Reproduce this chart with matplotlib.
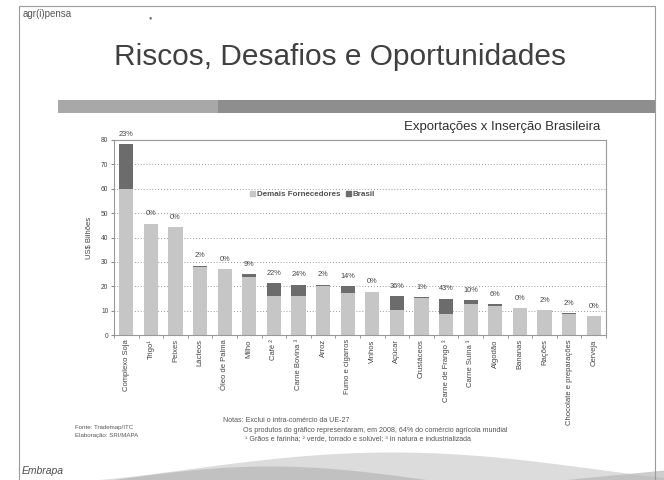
#!/usr/bin/env python3
"""Exportações x Inserção Brasileira - slide recreation."""

import numpy as np
import matplotlib.pyplot as plt
from matplotlib.patches import Rectangle

plt.rcParams['font.family'] = ['Liberation Sans', 'DejaVu Sans']

# --- data (US$ billions, 2008) ---
produtos = ['Complexo Soja', 'Trigo¹', 'Peixes', 'Lácteos', 'Óleo de Palma',
            'Milho', 'Café ²', 'Carne Bovina ³', 'Arroz', 'Fumo e cigarros',
            'Vinhos', 'Açúcar', 'Crustáceos', 'Carne de Frango ³', 'Carne Suína ³',
            'Algodão', 'Bananas', 'Rações', 'Chocolate e preparações', 'Cerveja']
demais = [60.0, 45.7, 44.2, 28.1, 27.0, 23.6, 16.0, 16.0, 20.3, 17.4,
          17.8, 10.3, 15.3, 8.6, 12.8, 12.0, 11.0, 10.1, 8.7, 7.9]
brasil = [18.2, 0.0, 0.0, 0.4, 0.0, 1.4, 5.3, 4.7, 0.4, 2.8,
          0.0, 5.5, 0.2, 6.3, 1.6, 0.6, 0.0, 0.2, 0.2, 0.0]
participacao = ['23%', '0%', '0%', '2%', '0%', '9%', '22%', '24%', '2%', '14%',
                '0%', '36%', '1%', '43%', '10%', '6%', '0%', '2%', '2%', '0%']
y_ticks = [0, 10, 20, 30, 40, 50, 60, 70, 80]

W, H = 664, 480
fig = plt.figure(figsize=(W / 100, H / 100), dpi=100)

# background layer in pixel coordinates
bg = fig.add_axes([0, 0, 1, 1], zorder=-1)
bg.set_xlim(0, W)
bg.set_ylim(H, 0)
bg.axis('off')

# bottom swoosh
xs = np.linspace(90, 664, 300)
t = (xs - 90) / 574
top = 480 - 28 * np.sin(np.clip(t, 0, 1) * np.pi * 0.95) ** 1.3
bg.fill_between(xs, top, 480, color='#dcdcdc', lw=0)
top2 = 480 - 14 * np.sin(np.clip((xs - 110) / 320, 0, 1) * np.pi)
bg.fill_between(xs, top2, 480, color='#b0b0b0', lw=0, alpha=0.6)
top3 = 480 - 10 * np.clip((xs - 560) / 104, 0, 1)
bg.fill_between(xs, top3, 480, color='#b8b8b8', lw=0, alpha=0.7)

# slide border
bg.add_patch(Rectangle((19, 6), 636, 480, fill=False, edgecolor='#9a9a9a', lw=0.8))
# gray band under title
bg.add_patch(Rectangle((58, 100), 597, 13, facecolor='#8e8e8e', edgecolor='none'))
bg.add_patch(Rectangle((58, 100), 160, 13, facecolor='#a8a8a8', edgecolor='none'))

# logos and titles
bg.text(23, 14, 'agr(i)pensa', fontsize=7, color='#555555', va='center')
bg.text(150, 18, '●', fontsize=4, color='#666666', ha='center', va='center')
bg.text(340, 57, 'Riscos, Desafios e Oportunidades', fontsize=21.5,
        color='#404040', ha='center', va='center')
bg.text(600, 127, 'Exportações x Inserção Brasileira', fontsize=9.5,
        color='#303030', ha='right', va='center')
bg.text(22, 471, 'Embrapa', fontsize=7.5, style='italic', color='#505050', va='center')

# notes
note_c = '#555555'
bg.text(75, 427, 'Fonte: Trademap/ITC', fontsize=4.4, color=note_c, va='center')
bg.text(75, 435, 'Elaboração: SRI/MAPA', fontsize=4.4, color=note_c, va='center')
bg.text(223, 421, 'Notas: Exclui o intra-comércio da UE-27', fontsize=5.1,
        color=note_c, va='center')
bg.text(243, 430, 'Os produtos do gráfico representaram, em 2008, 64% do comércio agrícola mundial',
        fontsize=5.1, color=note_c, va='center')
bg.text(245, 439, '¹ Grãos e farinha; ² verde, torrado e solúvel; ³ in natura e industrializada',
        fontsize=5.1, color=note_c, va='center')

# chart axes
ax = fig.add_axes([114 / W, 1 - 335 / H, 492 / W, 195 / H])
x = np.arange(len(produtos))
light = '#c6c6c6'
dark = '#6c6c6c'
ax.bar(x, demais, width=0.58, color=light, zorder=2)
ax.bar(x, brasil, width=0.58, bottom=demais, color=dark, zorder=2)

totals = np.array(demais) + np.array(brasil)
for xi, tot, lab in zip(x, totals, participacao):
    ax.annotate(lab, (xi, tot), xytext=(0, 7), textcoords='offset points',
                ha='center', va='center', fontsize=5.3, color='#444444',
                annotation_clip=False)

ax.set_xlim(-0.5, len(produtos) - 0.5)
ax.set_ylim(0, 80)
ax.set_yticks(y_ticks)
ax.set_yticklabels([str(v) for v in y_ticks], fontsize=4.8, color='#444444')
ax.set_xticks(x)
ax.set_xticklabels(produtos, rotation=90, fontsize=5.5, color='#444444', va='top')
ax.set_xticks(np.arange(-0.5, len(produtos), 1), minor=True)
ax.tick_params(axis='x', which='major', length=0, pad=3)
ax.tick_params(axis='x', which='minor', length=2, color='#888888')
ax.tick_params(axis='y', length=2, color='#888888', pad=2)
ax.set_ylabel('US$ Bilhões', fontsize=5.5, color='#444444', labelpad=6)

for v in y_ticks[1:-1]:
    ax.axhline(v, color='#777777', lw=0.6, ls=(0, (1, 2.5)), zorder=1)
for s in ax.spines.values():
    s.set_color('#999999')
    s.set_linewidth(0.8)

handles = [Rectangle((0, 0), 1, 1, color=light), Rectangle((0, 0), 1, 1, color=dark)]
ax.legend(handles, ['Demais Fornecedores', 'Brasil'], ncol=2, frameon=False,
          loc='center left', bbox_to_anchor=(0.262, 0.72),
          handlelength=0.6, handleheight=0.6, handletextpad=0.3, columnspacing=0.6,
          labelcolor='#505050', prop={'weight': 'bold', 'size': 5.8})

fig.savefig('out.png', dpi=100)
